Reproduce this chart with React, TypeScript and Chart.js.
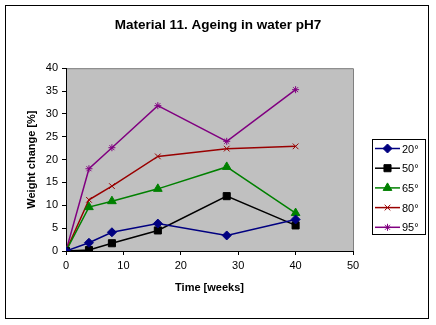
import React, { useEffect, useRef } from "react";
import { Chart, registerables } from "chart.js";
import { drawPoint } from "chart.js/helpers";

Chart.register(...registerables);

const weeks = [0, 4, 8, 16, 28, 40];
const seriesLabels = ["20°", "50°", "65°", "80°", "95°"];
const s20 = [0, 1.8, 4.1, 6.0, 3.4, 6.9];
const s50 = [0, 0.2, 1.7, 4.5, 12.0, 5.6];
const s65 = [0, 9.6, 10.9, 13.6, 18.4, 8.3];
const s80 = [0, 11.2, 14.2, 20.7, 22.4, 22.9];
const s95 = [0, 18.0, 22.6, 31.8, 24.0, 35.3];
const seriesValues = [s20, s50, s65, s80, s95];
const colors = ["#000080", "#000000", "#008000", "#990000", "#800080"];
const pointStyles = ["rectRot", "rect", "triangle", "crossRot", "star"];
const pointRadii = [4.5, 5, 5, 4, 3.5];

const FONT = "Arial, 'Liberation Sans', sans-serif";

const bgPlugin = {
  id: "bgPlugin",
  beforeDraw(chart: any) {
    const { ctx, chartArea: a, width, height } = chart;
    ctx.save();
    ctx.fillStyle = "#ffffff";
    ctx.fillRect(0, 0, width, height);
    ctx.strokeStyle = "#000000";
    ctx.lineWidth = 1;
    ctx.strokeRect(5.5, 5.5, 423, 313);
    ctx.fillStyle = "#c0c0c0";
    ctx.fillRect(a.left, a.top, a.right - a.left, a.bottom - a.top);
    ctx.strokeStyle = "#808080";
    ctx.beginPath();
    ctx.moveTo(a.left, a.top + 0.5);
    ctx.lineTo(a.right + 0.5, a.top + 0.5);
    ctx.lineTo(a.right + 0.5, a.bottom);
    ctx.stroke();
    ctx.restore();
  },
};

const legendPlugin = {
  id: "boxLegend",
  afterDraw(chart: any) {
    const { ctx } = chart;
    const x0 = 372, y0 = 139, w = 53, h = 95;
    ctx.save();
    ctx.strokeStyle = "#000000";
    ctx.lineWidth = 1;
    ctx.strokeRect(x0 + 0.5, y0 + 0.5, w, h);
    chart.data.datasets.forEach((ds: any, i: number) => {
      const y = 148.5 + i * 19.7;
      ctx.strokeStyle = ds.borderColor;
      ctx.lineWidth = 1.5;
      ctx.beginPath();
      ctx.moveTo(375, y);
      ctx.lineTo(400, y);
      ctx.stroke();
      ctx.fillStyle = ds.backgroundColor;
      ctx.strokeStyle = ds.borderColor;
      ctx.lineWidth = 1;
      drawPoint(ctx, { pointStyle: ds.pointStyle, radius: ds.pointRadius, rotation: 0, borderWidth: 1 }, 387.5, y);
      ctx.fillStyle = "#000000";
      ctx.font = `11px ${FONT}`;
      ctx.textBaseline = "middle";
      ctx.textAlign = "left";
      ctx.fillText(ds.label, 402, y + 1);
    });
    ctx.restore();
  },
};

export default function App() {
  const ref = useRef<HTMLCanvasElement>(null);
  useEffect(() => {
    document.body.style.margin = "0";
    const chart = new Chart(ref.current!, {
      type: "line",
      data: {
        datasets: seriesLabels.map((label, i) => ({
          label,
          data: weeks.map((w, j) => ({ x: w, y: seriesValues[i][j] })),
          borderColor: colors[i],
          backgroundColor: colors[i],
          pointStyle: pointStyles[i] as any,
          pointRadius: pointRadii[i],
          pointBorderWidth: 1,
          borderWidth: 1.5,
          tension: 0,
          fill: false,
        })),
      },
      plugins: [bgPlugin, legendPlugin],
      options: {
        animation: false,
        responsive: false,
        devicePixelRatio: 1,
        layout: { padding: 0 },
        plugins: {
          legend: { display: false },
          tooltip: { enabled: false },
          title: {
            display: true,
            text: "Material 11. Ageing in water pH7",
            color: "#000000",
            font: { family: FONT, size: 13.5, weight: "bold" },
            padding: { top: 17, bottom: 35 },
          },
        },
        scales: {
          x: {
            type: "linear",
            min: 0,
            max: 50,
            ticks: { stepSize: 10, color: "#000000", font: { family: FONT, size: 11 }, padding: 4 },
            grid: { drawOnChartArea: false, drawTicks: true, tickLength: 4, color: "#000000" },
            border: { color: "#000000", width: 1 },
            title: {
              display: true,
              text: "Time [weeks]",
              color: "#000000",
              font: { family: FONT, size: 11, weight: "bold" },
              padding: { top: 0, bottom: 30 },
            },
            afterFit: (s: any) => { s.height = 74; },
          },
          y: {
            type: "linear",
            min: 0,
            max: 40,
            ticks: { stepSize: 5, color: "#000000", font: { family: FONT, size: 11 }, padding: 4 },
            grid: { drawOnChartArea: false, drawTicks: true, tickLength: 4, color: "#000000" },
            border: { color: "#000000", width: 1 },
            title: {
              display: true,
              text: "Weight change [%]",
              color: "#000000",
              font: { family: FONT, size: 11, weight: "bold" },
              padding: { top: 25, bottom: 0 },
            },
            afterFit: (s: any) => { s.width = 66; },
          },
          yRightSpace: {
            type: "linear",
            position: "right",
            min: 0,
            max: 40,
            display: true,
            ticks: { display: false },
            grid: { display: false, drawTicks: false },
            border: { display: false },
            afterFit: (s: any) => { s.width = 83; },
          },
        },
      },
    });
    return () => chart.destroy();
  }, []);
  return <canvas ref={ref} width={436} height={325} />;
}
